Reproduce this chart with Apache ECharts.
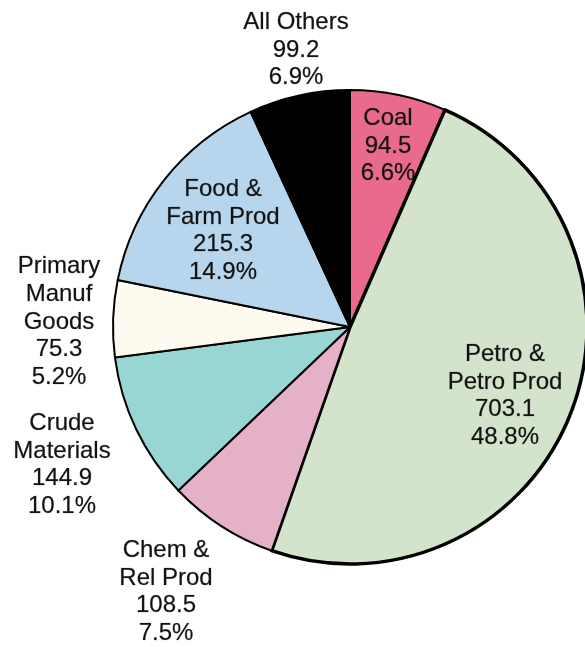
<!DOCTYPE html>
<html>
<head>
<meta charset="utf-8">
<script src="https://cdn.jsdelivr.net/npm/echarts@6/dist/echarts.min.js"></script>
<style>
  html, body { margin: 0; padding: 0; background: #fff; }
  #main { width: 585px; height: 647px; }
</style>
</head>
<body>
<div id="main"></div>
<script>
// 分类和数值（顺时针，从12点开始）
const categories = ['Coal', 'Petro &\nPetro Prod', 'Chem &\nRel Prod', 'Crude\nMaterials', 'Primary\nManuf\nGoods', 'Food &\nFarm Prod', 'All Others']
const values = [94.5, 703.1, 108.5, 144.9, 75.3, 215.3, 99.2]
const colors = ['#E96A8A', '#D4E3CC', '#E5B1C8', '#98D6D3', '#FEFAEF', '#B7D5EC', '#000000']
// 标签中心位置
const labelPos = [[388, 146], [505, 396], [166, 592], [62, 465], [59, 322], [223, 231], [296, 50]]

let chart = echarts.init(document.getElementById('main'))

let pieData = categories.map((name, i) => ({
    name: name,
    value: values[i],
    itemStyle: {
        color: colors[i],
        borderColor: '#000',
        borderWidth: i == 1 ? 3.5 : 2
    }
}))

let option = {
    backgroundColor: '#fff',
    animation: false,
    series: [{
        type: 'pie',
        center: [350, 327],
        radius: [0, 237],
        startAngle: 90,
        clockwise: true,
        percentPrecision: 1,
        label: {
            show: true,
            position: 'inside',
            formatter: '{b}\n{c}\n{d}%',
            fontFamily: 'Liberation Sans, Arial, sans-serif',
            fontSize: 24,
            lineHeight: 27.7,
            color: '#111',
            align: 'center',
            textBorderColor: 'rgba(17,17,17,0.35)',
            textBorderWidth: 0.6
        },
        labelLine: { show: false },
        labelLayout: function (params) {
            const p = labelPos[params.dataIndex]
            return { x: p[0], y: p[1], align: 'center', verticalAlign: 'middle' }
        },
        emphasis: { disabled: true },
        data: pieData
    }]
}

chart.setOption(option)
</script>
</body>
</html>
